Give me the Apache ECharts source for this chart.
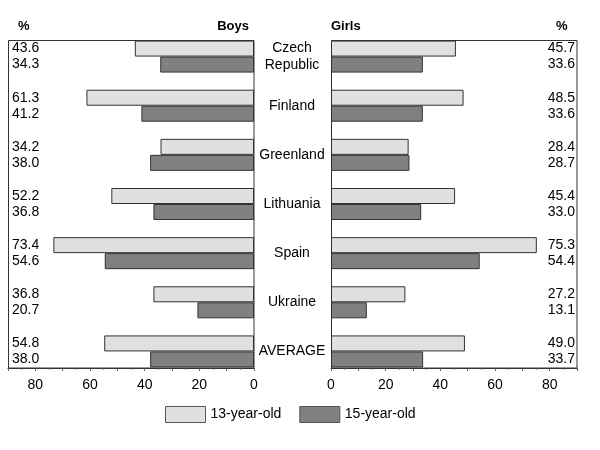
<!DOCTYPE html>
<html><head><meta charset="utf-8">
<script src="https://cdn.jsdelivr.net/npm/echarts@6/dist/echarts.min.js"></script>
<style>html,body{margin:0;padding:0;background:#fff}#c{width:600px;height:450px}</style>
</head><body><div id="c"></div>
<script>
var categories = ['Czech\nRepublic', 'Finland', 'Greenland', 'Lithuania', 'Spain', 'Ukraine', 'AVERAGE'];
var boys13 = [43.6, 61.3, 34.2, 52.2, 73.4, 36.8, 54.8];
var boys15 = [34.3, 41.2, 38.0, 36.8, 54.6, 20.7, 38.0];
var girls13 = [45.7, 48.5, 28.4, 45.4, 75.3, 27.2, 49.0];
var girls15 = [33.6, 33.6, 28.7, 33.0, 54.4, 13.1, 33.7];
var seriesNames = ['13-year-old', '15-year-old'];
var tickLabels = [0, 20, 40, 60, 80];

var FONT = 'Liberation Sans, Arial, sans-serif';
var LIGHT = '#e0e0e0', DARK = '#808080', EDGE = '#333';
var chart = echarts.init(document.getElementById('c'), null, {renderer: 'canvas'});

function fmtVal(v) { return v.toFixed(1); }
function xAxisFor(gi, inverse) {
  return {
    type: 'value', gridIndex: gi, min: 0, max: 90, interval: 10, inverse: inverse,
    offset: -8, splitLine: {show: false},
    axisLine: {show: true, lineStyle: {color: EDGE, width: 1}},
    axisTick: {show: true, length: 3, lineStyle: {color: '#666'}},
    minorTick: {show: true, splitNumber: 2, length: 2, lineStyle: {color: '#888'}},
    axisLabel: {color: '#000', fontFamily: FONT, fontSize: 14, margin: 10,
      formatter: function (v) { return tickLabels.indexOf(v) >= 0 ? String(v) : ''; }}
  };
}
function valueAxis(gi, pos, a, b, align, margin) {
  return {
    type: 'category', gridIndex: gi, data: categories, inverse: true, position: pos,
    axisLine: {show: false}, axisTick: {show: false},
    axisLabel: {inside: true, margin: margin, align: align, color: '#000', fontFamily: FONT,
      fontSize: 14, lineHeight: 16,
      formatter: function (v, i) { return fmtVal(a[i]) + '\n' + fmtVal(b[i]); }}
  };
}
var barBase = {type: 'bar', barWidth: 16, barGap: '0%', animation: false};
chart.setOption({
  animation: false,
  grid: [
    {left: 8, width: 246, top: 32, height: 344},
    {left: 331, width: 246, top: 32, height: 344}
  ],
  legend: {
    top: 401, left: 160, itemWidth: 40, itemHeight: 16, itemGap: 18,
    data: seriesNames, textStyle: {fontFamily: FONT, fontSize: 14, color: '#000'},
    icon: 'rect', itemStyle: {borderColor: '#555', borderWidth: 1}
  },
  xAxis: [xAxisFor(0, true), xAxisFor(1, false)],
  yAxis: [
    {type: 'category', gridIndex: 0, data: categories, inverse: true, position: 'right',
      axisLine: {show: false}, axisTick: {show: false},
      axisLabel: {margin: 38, align: 'center', color: '#000', fontFamily: FONT, fontSize: 14, lineHeight: 17}},
    valueAxis(0, 'left', boys13, boys15, 'left', 4),
    valueAxis(1, 'right', girls13, girls15, 'right', 2)
  ],
  graphic: [
    {type: 'rect', shape: {x: 8.5, y: 40.5, width: 245.5, height: 327.5}, style: {fill: null, stroke: EDGE, lineWidth: 1}, z: 100},
    {type: 'rect', shape: {x: 331.5, y: 40.5, width: 245.5, height: 327.5}, style: {fill: null, stroke: EDGE, lineWidth: 1}, z: 100},
    {type: 'text', left: 18, top: 20, style: {text: '%', font: 'bold 13px ' + FONT, fill: '#000'}},
    {type: 'text', right: 351, top: 20, style: {text: 'Boys', font: 'bold 13px ' + FONT, fill: '#000'}},
    {type: 'text', left: 331, top: 20, style: {text: 'Girls', font: 'bold 13px ' + FONT, fill: '#000'}},
    {type: 'text', left: 556, top: 20, style: {text: '%', font: 'bold 13px ' + FONT, fill: '#000'}}
  ],
  series: [
    Object.assign({}, barBase, {name: seriesNames[0], xAxisIndex: 0, yAxisIndex: 0, data: boys13,
      itemStyle: {color: LIGHT, borderColor: EDGE, borderWidth: 1}}),
    Object.assign({}, barBase, {name: seriesNames[1], xAxisIndex: 0, yAxisIndex: 0, data: boys15,
      itemStyle: {color: DARK, borderColor: EDGE, borderWidth: 1}}),
    Object.assign({}, barBase, {name: seriesNames[0], xAxisIndex: 1, yAxisIndex: 2, data: girls13,
      itemStyle: {color: LIGHT, borderColor: EDGE, borderWidth: 1}}),
    Object.assign({}, barBase, {name: seriesNames[1], xAxisIndex: 1, yAxisIndex: 2, data: girls15,
      itemStyle: {color: DARK, borderColor: EDGE, borderWidth: 1}})
  ]
});
</script></body></html>
